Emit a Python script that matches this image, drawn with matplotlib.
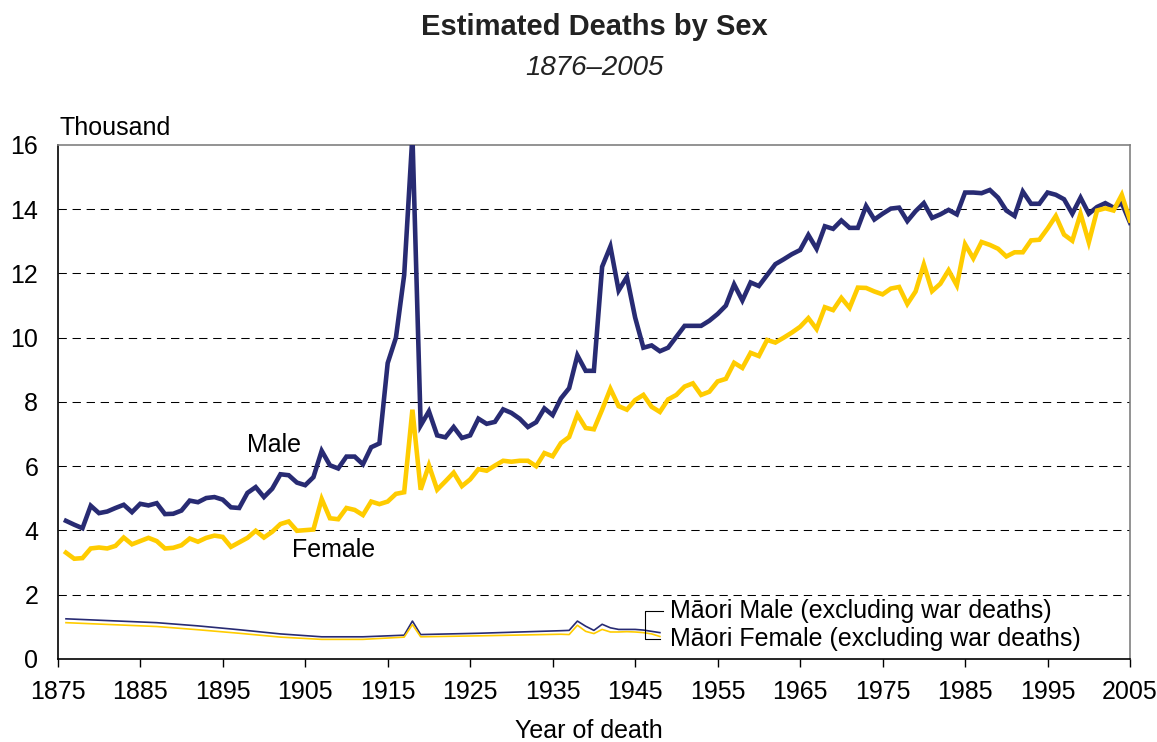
import matplotlib
matplotlib.use('Agg')
import matplotlib.pyplot as plt
import numpy as np

plt.rcParams['font.family'] = ['Liberation Sans', 'DejaVu Sans']

# --- data (thousand deaths) ---
years = np.arange(1876, 2006)

male = [
    4.30, 4.18, 4.07, 4.77, 4.54, 4.59, 4.70, 4.80, 4.57, 4.83,   # 1876-1885
    4.78, 4.85, 4.51, 4.52, 4.62, 4.93, 4.88, 5.01, 5.04, 4.96,   # 1886-1895
    4.72, 4.70, 5.17, 5.35, 5.04, 5.30, 5.75, 5.72, 5.49, 5.41,   # 1896-1905
    5.66, 6.48, 6.03, 5.93, 6.30, 6.30, 6.06, 6.59, 6.71, 9.21,   # 1906-1915
    10.00, 11.95, 16.30, 7.27, 7.71, 6.96, 6.90, 7.22, 6.88, 6.96,  # 1916-1925
    7.48, 7.32, 7.38, 7.77, 7.66, 7.48, 7.22, 7.37, 7.80, 7.59,   # 1926-1935
    8.11, 8.43, 9.45, 8.97, 8.97, 12.21, 12.84, 11.47, 11.89, 10.63,  # 1936-1945
    9.69, 9.76, 9.58, 9.69, 10.03, 10.37, 10.37, 10.37, 10.53, 10.74,  # 1946-1955
    11.00, 11.66, 11.16, 11.72, 11.61, 11.95, 12.29, 12.44, 12.60, 12.73,  # 1956-1965
    13.20, 12.77, 13.47, 13.39, 13.65, 13.42, 13.42, 14.10, 13.68, 13.86,  # 1966-1975
    14.02, 14.05, 13.63, 13.94, 14.19, 13.73, 13.84, 13.98, 13.84, 14.52,  # 1976-1985
    14.52, 14.50, 14.60, 14.36, 13.96, 13.79, 14.55, 14.17, 14.17, 14.52,  # 1986-1995
    14.45, 14.31, 13.86, 14.36, 13.86, 14.07, 14.19, 14.05, 14.19, 13.58,  # 1996-2005
]

female = [
    3.31, 3.12, 3.14, 3.44, 3.47, 3.44, 3.52, 3.78, 3.57, 3.67,   # 1876-1885
    3.77, 3.67, 3.44, 3.46, 3.54, 3.75, 3.65, 3.77, 3.84, 3.80,   # 1886-1895
    3.49, 3.63, 3.77, 3.99, 3.78, 3.96, 4.20, 4.28, 3.99, 4.01,   # 1896-1905
    4.03, 4.98, 4.38, 4.35, 4.70, 4.64, 4.48, 4.90, 4.82, 4.90,   # 1906-1915
    5.14, 5.19, 7.76, 5.27, 6.03, 5.27, 5.53, 5.80, 5.38, 5.59,   # 1916-1925
    5.91, 5.86, 6.02, 6.17, 6.14, 6.17, 6.17, 6.00, 6.41, 6.31,   # 1926-1935
    6.72, 6.91, 7.61, 7.19, 7.15, 7.76, 8.41, 7.87, 7.76, 8.06,   # 1936-1945
    8.22, 7.85, 7.69, 8.08, 8.22, 8.48, 8.58, 8.22, 8.32, 8.64,   # 1946-1955
    8.72, 9.22, 9.06, 9.53, 9.43, 9.93, 9.85, 10.00, 10.16, 10.34,  # 1956-1965
    10.61, 10.27, 10.95, 10.86, 11.24, 10.93, 11.56, 11.55, 11.44, 11.35,  # 1966-1975
    11.53, 11.58, 11.05, 11.44, 12.28, 11.45, 11.68, 12.10, 11.63, 12.91,  # 1976-1985
    12.47, 12.98, 12.89, 12.77, 12.53, 12.66, 12.66, 13.03, 13.05, 13.40,  # 1986-1995
    13.79, 13.21, 13.02, 13.86, 12.97, 13.96, 14.03, 13.96, 14.45, 13.65,  # 1996-2005
]

maori_years = [1876, 1887, 1892, 1897, 1902, 1907, 1912, 1917, 1918, 1919,
               1926, 1936, 1937, 1938, 1939, 1940, 1941, 1942, 1943, 1944,
               1945, 1946, 1947, 1948]
maori_male = [1.25, 1.13, 1.03, 0.91, 0.78, 0.69, 0.69, 0.74, 1.18, 0.76,
              0.80, 0.88, 0.89, 1.18, 1.02, 0.89, 1.08, 0.97, 0.92, 0.92,
              0.92, 0.90, 0.86, 0.82]
maori_female = [1.13, 1.01, 0.91, 0.80, 0.68, 0.61, 0.61, 0.68, 1.07, 0.69,
                0.72, 0.77, 0.76, 1.05, 0.86, 0.79, 0.92, 0.84, 0.84, 0.85,
                0.84, 0.82, 0.78, 0.70]

navy = '#282B73'
gold = '#FFCC00'

fig = plt.figure(figsize=(11.57, 7.42), dpi=100)
ax = fig.add_axes([0.0499, 0.1119, 0.9268, 0.6927])

# grid lines
for v in range(2, 16, 2):
    ax.axhline(v, color='black', lw=0.75, linestyle=(0, (8, 5.5)), zorder=1)

ax.plot(years, male, color=navy, lw=3.3, zorder=3, solid_joinstyle='miter')
ax.plot(years, female, color=gold, lw=3.3, zorder=4, solid_joinstyle='miter')
ax.plot(maori_years, maori_male, color=navy, lw=1.2, zorder=3)
ax.plot(maori_years, maori_female, color=gold, lw=1.2, zorder=3)

ax.set_xlim(1875, 2005)
ax.set_ylim(0, 16)
ax.set_xticks(range(1875, 2006, 10))
ax.set_yticks(range(0, 17, 2))
ax.tick_params(axis='x', length=5.5, width=1, direction='out', pad=10, labelsize=18)
ax.tick_params(axis='y', length=0, pad=14, labelsize=18)

for side in ['left', 'bottom']:
    ax.spines[side].set_color('black')
    ax.spines[side].set_linewidth(1.2)
for side in ['top', 'right']:
    ax.spines[side].set_color('#808080')
    ax.spines[side].set_linewidth(1.2)

# labels on lines
ax.text(1901.2, 6.66, 'Male', fontsize=18, ha='center', va='center')
ax.text(1908.5, 3.39, 'Female', fontsize=18, ha='center', va='center')

# bracket for Maori labels
ax.plot([1948.4, 1946.2, 1946.2, 1948.0], [1.50, 1.50, 0.62, 0.62],
        color='black', lw=0.8, zorder=5)
ax.text(1949.2, 1.50, 'Māori Male (excluding war deaths)', fontsize=18, va='center')
ax.text(1949.2, 0.62, 'Māori Female (excluding war deaths)', fontsize=18, va='center')

fig.text(0.514, 0.9636, 'Estimated Deaths by Sex', fontsize=21, fontweight='bold',
         ha='center', va='center', color='#222222')
fig.text(0.514, 0.908, '1876–2005', fontsize=20, style='italic',
         ha='center', va='center', color='#222222')
fig.text(60 / 1157, 1 - 128 / 742, 'Thousand', fontsize=18, ha='left', va='center')
fig.text(589 / 1157, 1 - 731 / 742, 'Year of death', fontsize=18, ha='center', va='center')

fig.savefig('out.png', dpi=100, facecolor='white')
plt.close(fig)
